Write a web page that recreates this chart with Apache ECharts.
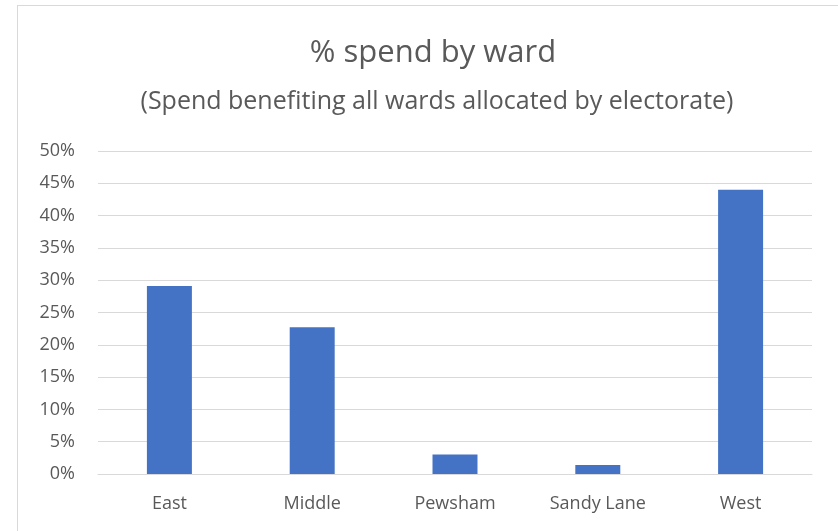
<!DOCTYPE html>
<html>
<head>
<meta charset="utf-8">
<script src="https://cdn.jsdelivr.net/npm/echarts@6/dist/echarts.min.js"></script>
<style>
html,body{margin:0;padding:0;background:#fff;}
#frame{position:absolute;left:17px;top:5px;width:830px;height:540px;border:1px solid #d9d9d9;box-sizing:border-box;}
#chart{position:absolute;left:0;top:0;width:838px;height:531px;}
</style>
</head>
<body>
<div id="frame"></div>
<div id="chart"></div>
<script>
const categories = ['East', 'Middle', 'Pewsham', 'Sandy Lane', 'West'];
const values = [0.291, 0.227, 0.030, 0.014, 0.440];
const titleText = '% spend by ward';
const subtitleText = '(Spend benefiting all wards allocated by electorate)';

const chart = echarts.init(document.getElementById('chart'));
const font = 'Open Sans';
chart.setOption({
  animation: false,
  title: [
    { text: titleText, left: 428, top: 33, textAlign: 'center',
      textStyle: { fontFamily: font, fontSize: 31, fontWeight: 'normal', color: '#595959' } },
    { text: subtitleText, left: 432, top: 84, textAlign: 'center',
      textStyle: { fontFamily: font, fontSize: 25, fontWeight: 'normal', color: '#595959' } }
  ],
  grid: { left: 98, right: 26, top: 151, bottom: 57 },
  xAxis: {
    type: 'category', data: categories,
    axisLine: { show: true, lineStyle: { color: '#d9d9d9', width: 1 } },
    axisTick: { show: false },
    axisLabel: { fontFamily: font, fontSize: 18, color: '#595959', margin: 21 }
  },
  yAxis: {
    type: 'value', min: 0, max: 0.5, interval: 0.05,
    axisLine: { show: false }, axisTick: { show: false },
    axisLabel: { fontFamily: font, fontSize: 18, color: '#595959', margin: 23,
      formatter: v => Math.round(v * 100) + '%' },
    splitLine: { lineStyle: { color: '#d9d9d9', width: 1 } }
  },
  series: [{
    type: 'bar', data: values, barWidth: '31.5%',
    itemStyle: { color: '#4472C4' }
  }]
});
</script>
</body>
</html>
